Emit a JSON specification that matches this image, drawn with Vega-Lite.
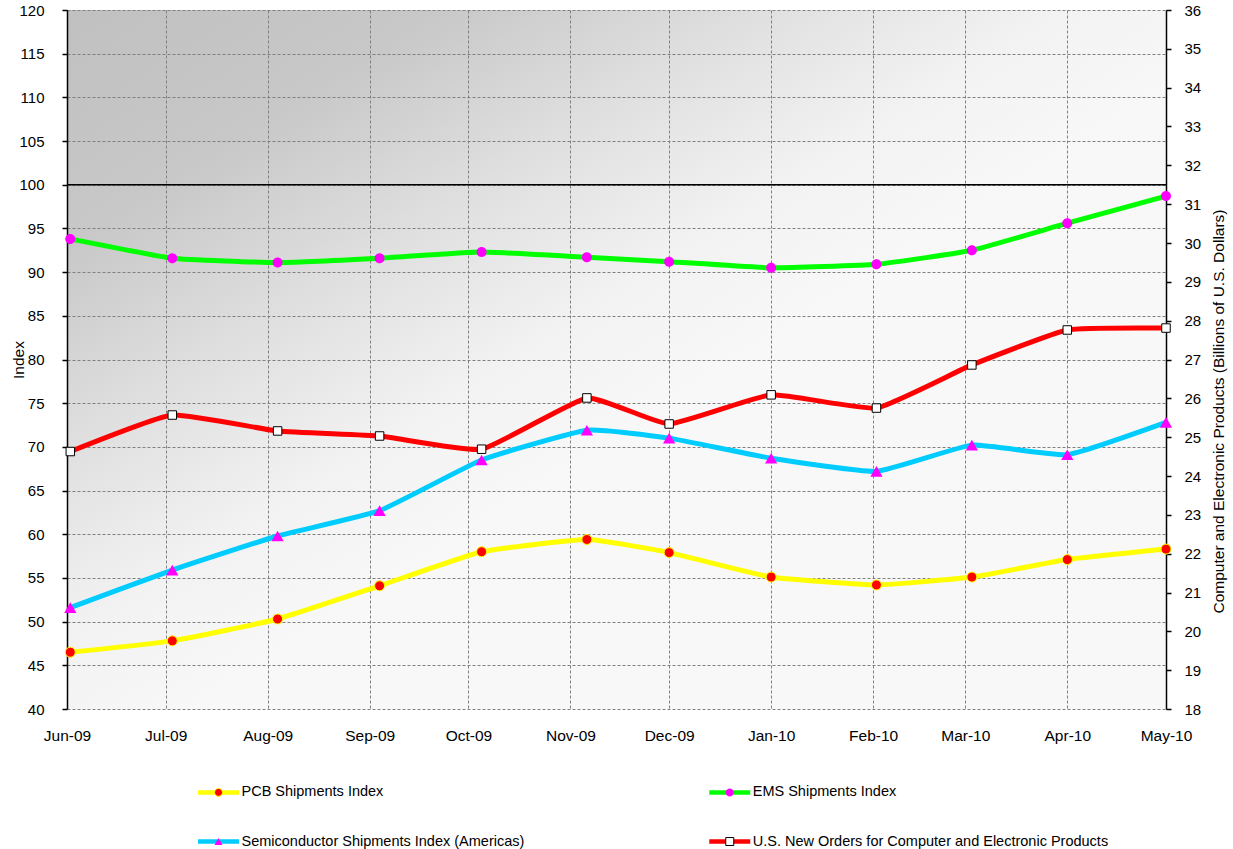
{
  "$schema": "https://vega.github.io/schema/vega-lite/v6.json",
  "width": 1099,
  "height": 699,
  "autosize": {"type": "none"},
  "padding": {"left": 67, "top": 10, "right": 67, "bottom": 140},
  "background": "#ffffff",
  "config": {
    "font": "Liberation Sans",
    "view": {
      "stroke": null,
      "fill": {
        "gradient": "linear", "x1": 0, "y1": 0, "x2": 1, "y2": 1,
        "stops": [
          {"offset": 0, "color": "#c0c0c0"},
          {"offset": 0.17, "color": "#c8c8c8"},
          {"offset": 0.32, "color": "#e0e0e0"},
          {"offset": 0.45, "color": "#f2f2f2"},
          {"offset": 0.56, "color": "#f8f8f8"},
          {"offset": 1, "color": "#f8f8f8"}
        ]
      }
    }
  },
  "data": {
    "values": [
      {"date": "2009-06-02", "series": "PCB Shipments Index", "value": 46.5},
      {"date": "2009-07-03", "series": "PCB Shipments Index", "value": 47.8},
      {"date": "2009-08-04", "series": "PCB Shipments Index", "value": 50.3},
      {"date": "2009-09-04", "series": "PCB Shipments Index", "value": 54.1},
      {"date": "2009-10-05", "series": "PCB Shipments Index", "value": 58.0},
      {"date": "2009-11-06", "series": "PCB Shipments Index", "value": 59.4},
      {"date": "2009-12-01", "series": "PCB Shipments Index", "value": 57.9},
      {"date": "2010-01-01", "series": "PCB Shipments Index", "value": 55.1},
      {"date": "2010-02-02", "series": "PCB Shipments Index", "value": 54.2},
      {"date": "2010-03-03", "series": "PCB Shipments Index", "value": 55.1},
      {"date": "2010-04-01", "series": "PCB Shipments Index", "value": 57.1},
      {"date": "2010-05-01", "series": "PCB Shipments Index", "value": 58.3},
      {"date": "2009-06-02", "series": "EMS Shipments Index", "value": 93.8},
      {"date": "2009-07-03", "series": "EMS Shipments Index", "value": 91.6},
      {"date": "2009-08-04", "series": "EMS Shipments Index", "value": 91.1},
      {"date": "2009-09-04", "series": "EMS Shipments Index", "value": 91.6},
      {"date": "2009-10-05", "series": "EMS Shipments Index", "value": 92.3},
      {"date": "2009-11-06", "series": "EMS Shipments Index", "value": 91.7},
      {"date": "2009-12-01", "series": "EMS Shipments Index", "value": 91.2},
      {"date": "2010-01-01", "series": "EMS Shipments Index", "value": 90.5},
      {"date": "2010-02-02", "series": "EMS Shipments Index", "value": 90.9},
      {"date": "2010-03-03", "series": "EMS Shipments Index", "value": 92.5},
      {"date": "2010-04-01", "series": "EMS Shipments Index", "value": 95.6},
      {"date": "2010-05-01", "series": "EMS Shipments Index", "value": 98.7},
      {"date": "2009-06-02", "series": "Semiconductor Shipments Index (Americas)", "value": 51.6},
      {"date": "2009-07-03", "series": "Semiconductor Shipments Index (Americas)", "value": 55.9},
      {"date": "2009-08-04", "series": "Semiconductor Shipments Index (Americas)", "value": 59.8},
      {"date": "2009-09-04", "series": "Semiconductor Shipments Index (Americas)", "value": 62.7},
      {"date": "2009-10-05", "series": "Semiconductor Shipments Index (Americas)", "value": 68.5},
      {"date": "2009-11-06", "series": "Semiconductor Shipments Index (Americas)", "value": 71.9},
      {"date": "2009-12-01", "series": "Semiconductor Shipments Index (Americas)", "value": 71.0},
      {"date": "2010-01-01", "series": "Semiconductor Shipments Index (Americas)", "value": 68.7},
      {"date": "2010-02-02", "series": "Semiconductor Shipments Index (Americas)", "value": 67.2},
      {"date": "2010-03-03", "series": "Semiconductor Shipments Index (Americas)", "value": 70.2},
      {"date": "2010-04-01", "series": "Semiconductor Shipments Index (Americas)", "value": 69.1},
      {"date": "2010-05-01", "series": "Semiconductor Shipments Index (Americas)", "value": 72.8},
      {"date": "2009-06-02", "series": "U.S. New Orders for Computer and Electronic Products", "value": 24.63},
      {"date": "2009-07-03", "series": "U.S. New Orders for Computer and Electronic Products", "value": 25.57},
      {"date": "2009-08-04", "series": "U.S. New Orders for Computer and Electronic Products", "value": 25.16},
      {"date": "2009-09-04", "series": "U.S. New Orders for Computer and Electronic Products", "value": 25.03},
      {"date": "2009-10-05", "series": "U.S. New Orders for Computer and Electronic Products", "value": 24.69},
      {"date": "2009-11-06", "series": "U.S. New Orders for Computer and Electronic Products", "value": 26.01},
      {"date": "2009-12-01", "series": "U.S. New Orders for Computer and Electronic Products", "value": 25.34},
      {"date": "2010-01-01", "series": "U.S. New Orders for Computer and Electronic Products", "value": 26.09},
      {"date": "2010-02-02", "series": "U.S. New Orders for Computer and Electronic Products", "value": 25.75},
      {"date": "2010-03-03", "series": "U.S. New Orders for Computer and Electronic Products", "value": 26.86},
      {"date": "2010-04-01", "series": "U.S. New Orders for Computer and Electronic Products", "value": 27.76},
      {"date": "2010-05-01", "series": "U.S. New Orders for Computer and Electronic Products", "value": 27.81}
    ]
  },
  "layer": [
    {
      "layer": [
        {
          "data": {"values": [{}]},
          "mark": {"type": "rule", "color": "#000000", "strokeWidth": 1.5},
          "encoding": {"y": {"datum": 100, "type": "quantitative"}}
        },
        {
          "transform": [{"filter": "datum.series !== 'U.S. New Orders for Computer and Electronic Products'"}],
          "mark": {"type": "line", "strokeWidth": 5, "interpolate": "cardinal", "tension": 0.6},
          "encoding": {
            "x": {
              "field": "date", "type": "temporal",
              "scale": {"type": "utc", "domain": [{"year": 2009, "month": 6, "date": 1, "utc": true}, {"year": 2010, "month": 5, "date": 1, "utc": true}]},
              "axis": {
                "orient": "bottom", "format": "%b-%y",
                "tickCount": {"interval": "month", "step": 1},
                "grid": true, "gridColor": "#808080", "gridDash": [3, 2], "gridWidth": 1,
                "domain": false, "ticks": false, "tickSize": 0,
                "labelPadding": 19, "labelFont": "Liberation Sans", "labelFontSize": 15.5, "labelColor": "#000000",
                "labelOverlap": false, "labelFlush": false, "labelBound": false, "title": null
              }
            },
            "y": {
              "field": "value", "type": "quantitative",
              "scale": {"domain": [40, 120], "nice": false, "zero": false},
              "axis": {
                "orient": "left",
                "values": [40, 45, 50, 55, 60, 65, 70, 75, 80, 85, 90, 95, 100, 105, 110, 115, 120],
                "tickCount": 40, "format": "d",
                "grid": true, "gridColor": "#808080", "gridDash": [3, 2], "gridWidth": 1,
                "domainColor": "#000000", "domainWidth": 1.5, "tickColor": "#000000", "tickSize": 5, "tickWidth": 1.5,
                "labelFont": "Liberation Sans", "labelFontSize": 15, "labelColor": "#000000", "labelPadding": 18, "labelOverlap": false,
                "title": "Index", "titleFont": "Liberation Sans", "titleFontSize": 15.5, "titleFontWeight": "normal", "titleColor": "#000000",
                "titleAngle": 270, "titleX": -49, "titleY": 349.5, "titleBaseline": "middle", "titleAlign": "center"
              }
            },
            "color": {
              "field": "series", "type": "nominal",
              "scale": {
                "domain": ["PCB Shipments Index", "EMS Shipments Index", "Semiconductor Shipments Index (Americas)", "U.S. New Orders for Computer and Electronic Products"],
                "range": ["#ffff00", "#00ff00", "#00ccff", "#ff0000"]
              },
              "legend": {
                "values": ["PCB Shipments Index", "Semiconductor Shipments Index (Americas)", "EMS Shipments Index", "U.S. New Orders for Computer and Electronic Products"],
                "title": null, "orient": "none", "legendX": 128.5, "legendY": 774.75, "zindex": 1,
                "columns": 2, "columnPadding": 175.25, "rowPadding": 30.5, "padding": 0,
                "symbolType": "M-5.125,0H5.125", "symbolSize": 64, "symbolStrokeWidth": 4.5, "symbolOffset": 15.75, "symbolOpacity": 1,
                "labelOffset": 15.75, "labelFont": "Liberation Sans", "labelFontSize": 14.5, "labelColor": "#000000", "labelLimit": 600
              }
            }
          }
        },
        {
          "transform": [{"filter": "datum.series === 'PCB Shipments Index'"}],
          "mark": {"type": "point", "filled": true, "opacity": 1, "size": 100, "strokeWidth": 1},
          "encoding": {
            "x": {"field": "date", "type": "temporal"},
            "y": {"field": "value", "type": "quantitative"},
            "fill": {
              "field": "series", "type": "nominal",
              "scale": {
                "domain": ["EMS Shipments Index", "PCB Shipments Index", "Semiconductor Shipments Index (Americas)", "U.S. New Orders for Computer and Electronic Products"],
                "range": ["#ff00ff", "#ff0000", "#ff00ff", "#ffffff"]
              },
              "legend": {
                "values": ["PCB Shipments Index", "Semiconductor Shipments Index (Americas)", "EMS Shipments Index", "U.S. New Orders for Computer and Electronic Products"],
                "title": null, "orient": "none", "legendX": 128.5, "legendY": 774.75, "zindex": 2,
                "columns": 2, "columnPadding": 175.25, "rowPadding": 30.5, "padding": 0,
                "symbolSize": 64, "symbolStrokeWidth": 1, "symbolOffset": 15.75, "symbolOpacity": 1,
                "labelOffset": 15.75, "labelFont": "Liberation Sans", "labelFontSize": 14.5, "labelColor": "#000000", "labelOpacity": 0, "labelLimit": 600
              }
            },
            "stroke": {
              "field": "series", "type": "nominal",
              "scale": {
                "domain": ["EMS Shipments Index", "PCB Shipments Index", "Semiconductor Shipments Index (Americas)", "U.S. New Orders for Computer and Electronic Products"],
                "range": ["transparent", "#ffff00", "transparent", "#000000"]
              }
            },
            "shape": {
              "field": "series", "type": "nominal",
              "scale": {
                "domain": ["EMS Shipments Index", "PCB Shipments Index", "Semiconductor Shipments Index (Americas)", "U.S. New Orders for Computer and Electronic Products"],
                "range": [
                  "M1,0A1,1,0,1,1,-1,0A1,1,0,1,1,1,0ZM-6.875,0L-6.875,0M6.875,0L6.875,0M0,-1.75L0,-1.75M0,1.75L0,1.75",
                  "M1,0A1,1,0,1,1,-1,0A1,1,0,1,1,1,0ZM-6.875,0L-6.875,0M6.875,0L6.875,0M0,-1.75L0,-1.75M0,1.75L0,1.75",
                  "M0,-0.866L1,0.866L-1,0.866ZM-6.875,0L-6.875,0M6.875,0L6.875,0M0,-1.75L0,-1.75M0,1.75L0,1.75",
                  "M-1,-1H1V1H-1ZM-6.875,0L-6.875,0M6.875,0L6.875,0M0,-1.75L0,-1.75M0,1.75L0,1.75"
                ]
              }
            }
          }
        },
        {
          "transform": [{"filter": "datum.series === 'EMS Shipments Index'"}],
          "mark": {"type": "point", "filled": true, "opacity": 1, "size": 100, "strokeWidth": 1},
          "encoding": {
            "x": {"field": "date", "type": "temporal"},
            "y": {"field": "value", "type": "quantitative"},
            "fill": {"field": "series", "type": "nominal"},
            "stroke": {"field": "series", "type": "nominal"},
            "shape": {"field": "series", "type": "nominal"}
          }
        },
        {
          "transform": [{"filter": "datum.series === 'Semiconductor Shipments Index (Americas)'"}],
          "mark": {"type": "point", "filled": true, "opacity": 1, "size": 150, "strokeWidth": 1},
          "encoding": {
            "x": {"field": "date", "type": "temporal"},
            "y": {"field": "value", "type": "quantitative"},
            "fill": {"field": "series", "type": "nominal"},
            "stroke": {"field": "series", "type": "nominal"},
            "shape": {"field": "series", "type": "nominal"}
          }
        }
      ]
    },
    {
      "layer": [
        {
          "transform": [{"filter": "datum.series === 'U.S. New Orders for Computer and Electronic Products'"}],
          "mark": {"type": "line", "strokeWidth": 5, "interpolate": "cardinal", "tension": 0.6},
          "encoding": {
            "x": {"field": "date", "type": "temporal"},
            "y": {
              "field": "value", "type": "quantitative",
              "scale": {"domain": [18, 36], "nice": false, "zero": false},
              "axis": {
                "orient": "right",
                "values": [18, 19, 20, 21, 22, 23, 24, 25, 26, 27, 28, 29, 30, 31, 32, 33, 34, 35, 36],
                "tickCount": 40, "format": "d",
                "grid": false,
                "domainColor": "#000000", "domainWidth": 1.5, "tickColor": "#000000", "tickSize": 5, "tickWidth": 1.5,
                "labelFont": "Liberation Sans", "labelFontSize": 15, "labelColor": "#000000", "labelPadding": 13, "labelOverlap": false,
                "title": "Computer and Electronic Products (Billions of U.S. Dollars)", "titleFont": "Liberation Sans", "titleFontSize": 15.5, "titleFontWeight": "normal", "titleColor": "#000000",
                "titleAngle": 270, "titleX": 52, "titleY": 401, "titleBaseline": "middle", "titleAlign": "center"
              }
            },
            "color": {"field": "series", "type": "nominal"}
          }
        },
        {
          "transform": [{"filter": "datum.series === 'U.S. New Orders for Computer and Electronic Products'"}],
          "mark": {"type": "point", "filled": true, "opacity": 1, "size": 72, "strokeWidth": 1},
          "encoding": {
            "x": {"field": "date", "type": "temporal"},
            "y": {"field": "value", "type": "quantitative"},
            "fill": {"field": "series", "type": "nominal"},
            "stroke": {"field": "series", "type": "nominal"},
            "shape": {"field": "series", "type": "nominal"}
          }
        }
      ]
    }
  ],
  "resolve": {"scale": {"y": "independent"}}
}
